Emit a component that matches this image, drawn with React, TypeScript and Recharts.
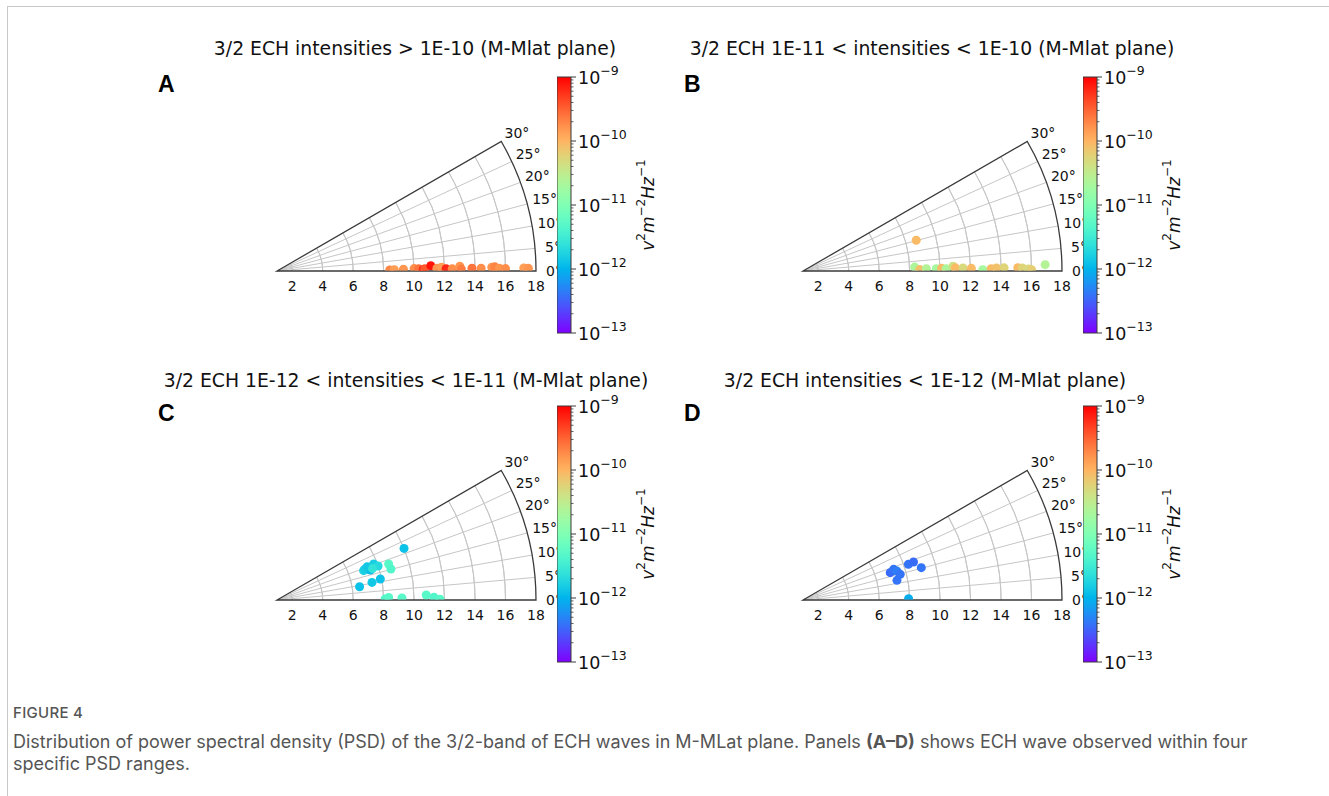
import React from 'react';
import {
  RadarChart,
  Radar,
  PolarGrid,
  PolarAngleAxis,
  PolarRadiusAxis,
  Pie,
  ComposedChart,
  XAxis,
  YAxis,
  ReferenceArea,
} from 'recharts';

// ---- data ----
const MLAT_TICKS = [0, 5, 10, 15, 20, 25, 30];
const RADIUS_TICKS = [2, 4, 6, 8, 10, 12, 14, 16, 18];
const GRID_ARCS = [2, 4, 6, 8, 10, 12, 14, 16];
const CB_EXPONENTS = [-13, -12, -11, -10, -9];

// A: intensities > 1E-10
const A_RADIUS = [8.4, 8.7, 9.3, 10.0, 10.3, 10.6, 10.7, 11.1, 11.5, 11.8, 12.1, 12.5, 13.0, 13.1, 13.8, 14.4, 15.1, 15.3, 15.6, 16.0, 17.2, 17.5];
const A_MLAT = [0.5, 0.6, 0.8, 1.0, 0.9, 0.6, 0.9, 2.0, 1.0, 1.3, 0.8, 0.7, 1.5, 0.6, 0.8, 0.8, 1.0, 1.1, 0.7, 0.6, 0.7, 0.6];
const A_LOGPSD = [-9.7, -9.85, -9.8, -9.75, -9.6, -9.2, -9.45, -9.1, -9.8, -9.85, -9.2, -9.75, -9.8, -9.65, -9.6, -9.75, -9.8, -9.7, -9.8, -9.75, -9.85, -9.8];

// B: 1E-11 < intensities < 1E-10
const B_RADIUS = [8.33, 8.7, 8.66, 9.1, 9.75, 10.1, 10.4, 10.85, 11.0, 11.5, 12.05, 12.8, 13.35, 13.7, 14.2, 15.1, 15.4, 15.8, 16.0, 16.9];
const B_MLAT = [2.0, 15.2, 0.7, 1.1, 1.0, 1.1, 0.9, 1.8, 1.2, 1.1, 0.9, 0.4, 0.7, 0.9, 0.9, 0.9, 0.8, 0.5, 0.3, 1.5];
const B_LOGPSD = [-10.65, -10.05, -10.1, -10.6, -10.7, -10.05, -10.65, -10.4, -10.05, -10.3, -10.05, -10.7, -10.05, -10.1, -10.25, -10.05, -10.25, -10.3, -10.2, -10.6];

// C: 1E-12 < intensities < 1E-11
const C_RADIUS = [6.49, 7.34, 7.92, 7.0, 7.1, 7.43, 7.5, 7.3, 7.77, 8.0, 7.6, 8.7, 8.75, 10.0, 8.1, 8.33, 9.2, 10.8, 11.3, 11.7];
const C_MLAT = [9.1, 10.5, 11.5, 18.7, 19.3, 17.8, 19.3, 20.2, 20.4, 18.6, 18.2, 17.9, 15.2, 22.1, 0.5, 1.3, 0.9, 1.9, 1.0, 0.3];
const C_LOGPSD = [-11.9, -11.85, -11.9, -11.75, -11.8, -11.95, -11.9, -11.85, -11.8, -11.7, -11.6, -11.3, -11.35, -11.9, -11.35, -11.3, -11.3, -11.3, -11.35, -11.3];

// D: intensities < 1E-12
const D_RADIUS = [7.93, 7.3, 7.0, 7.28, 7.45, 7.6, 8.3, 8.67, 9.05];
const D_MLAT = [0.7, 11.8, 17.4, 18.7, 17.1, 14.8, 18.7, 19.0, 15.3];
const D_LOGPSD = [-12.05, -12.4, -12.45, -12.4, -12.35, -12.4, -12.4, -12.45, -12.4];

// ---- layout ----
const FONT = '"DejaVu Sans", sans-serif';
const R_MIN = 1;
const R_MAX = 18;
const R_PX = 259;
const W = 340;
const H = 200;
const CX = 20;
const CY = 160;
const CB_W = 14;
const CB_H = 256;
const CB_PAD = 22;
const CB_AXIS_W = 120;
const GRID = '#c6c6c6';
const SPINE = '#3a3a3a';

const PANELS = [
  { id: 'a', letter: 'A', title: '3/2 ECH intensities > 1E-10 (M-Mlat plane)', vx: 277, vy: 270.5, tx: 415, ty: 48, cbx: 557, cby: 77, radius: A_RADIUS, mlat: A_MLAT, psd: A_LOGPSD },
  { id: 'b', letter: 'B', title: '3/2 ECH 1E-11 < intensities < 1E-10 (M-Mlat plane)', vx: 803, vy: 270.5, tx: 932, ty: 48, cbx: 1083, cby: 77, radius: B_RADIUS, mlat: B_MLAT, psd: B_LOGPSD },
  { id: 'c', letter: 'C', title: '3/2 ECH 1E-12 < intensities < 1E-11 (M-Mlat plane)', vx: 277, vy: 599.5, tx: 406, ty: 380, cbx: 557, cby: 406, radius: C_RADIUS, mlat: C_MLAT, psd: C_LOGPSD },
  { id: 'd', letter: 'D', title: '3/2 ECH intensities < 1E-12 (M-Mlat plane)', vx: 803, vy: 599.5, tx: 925, ty: 380, cbx: 1083, cby: 406, radius: D_RADIUS, mlat: D_MLAT, psd: D_LOGPSD },
];

// matplotlib "rainbow" colormap
function rainbow(t: number) {
  const c = (v: number) => Math.round(255 * Math.max(0, Math.min(1, v)));
  return `rgb(${c(Math.abs(2 * t - 0.5))},${c(Math.sin(Math.PI * t))},${c(Math.cos((Math.PI * t) / 2))})`;
}
const LOG_MIN = CB_EXPONENTS[0];
const LOG_MAX = CB_EXPONENTS[CB_EXPONENTS.length - 1];
const colorOf = (lp: number) => rainbow((lp - LOG_MIN) / (LOG_MAX - LOG_MIN));

const arcPx = (r: number) => ((r - R_MIN) / (R_MAX - R_MIN)) * R_PX;

const CB_MAJOR = CB_EXPONENTS.map((e) => Math.pow(10, e));
const CB_MINOR = CB_EXPONENTS.slice(0, -1).flatMap((e) => [2, 3, 4, 5, 6, 7, 8, 9].map((m) => m * Math.pow(10, e)));

function AngleTick(props: any) {
  const { x, y, payload } = props;
  return (
    <text x={x} y={y} textAnchor="middle" dominantBaseline="central" fontFamily={FONT} fontSize={14} fill="#111">
      {`${payload.value}°`}
    </text>
  );
}

function RadiusTick(props: any) {
  const { x, y, payload } = props;
  return (
    <text x={x} y={y + 15} textAnchor="middle" dominantBaseline="central" fontFamily={FONT} fontSize={14} fill="#111">
      {payload.value}
    </text>
  );
}

function WedgePanel({ p }: { p: (typeof PANELS)[number] }) {
  const data = p.radius.map((r, i) => ({ r, lat: p.mlat[i], psd: p.psd[i] }));
  const clipId = `wedge-clip-${p.id}`;
  const renderDot = (props: any) => {
    const d = props.payload?.payload ?? props.payload;
    return (
      <circle
        key={`dot-${props.index}`}
        cx={props.cx}
        cy={props.cy}
        r={4.5}
        fill={colorOf(d.psd)}
        stroke="none"
        clipPath={`url(#${clipId})`}
      />
    );
  };
  return (
    <div style={{ position: 'absolute', left: p.vx - CX, top: p.vy - CY }}>
      <RadarChart
        width={W}
        height={H}
        cx={CX}
        cy={CY}
        innerRadius={0}
        outerRadius={R_PX}
        startAngle={0}
        endAngle={30}
        data={data}
        margin={{ top: 0, right: 0, bottom: 0, left: 0 }}
      >
        <defs>
          <clipPath id={clipId}>
            <rect x={0} y={0} width={W} height={CY - 0.5} />
          </clipPath>
        </defs>
        {GRID_ARCS.map((r) => (
          <Pie
            key={`arc-${r}`}
            data={[{ v: 1 }]}
            dataKey="v"
            cx={CX}
            cy={CY}
            innerRadius={arcPx(r)}
            outerRadius={arcPx(r)}
            startAngle={0}
            endAngle={30}
            fill="none"
            stroke={GRID}
            strokeWidth={1}
            isAnimationActive={false}
          />
        ))}
        <PolarGrid gridType="polygon" polarAngles={[5, 10, 15, 20, 25]} polarRadius={[]} stroke={GRID} strokeWidth={1} />
        <PolarAngleAxis
          type="number"
          dataKey="lat"
          domain={[0, 30]}
          allowDataOverflow
          ticks={MLAT_TICKS}
          tickCount={7}
          tick={AngleTick}
          tickSize={18}
          tickLine={false}
          axisLine={false}
        />
        <PolarRadiusAxis
          type="number"
          angle={0}
          domain={[R_MIN, R_MAX]}
          allowDataOverflow
          ticks={RADIUS_TICKS}
          tick={RadiusTick}
          tickLine={false}
          axisLine={false}
        />
        <Radar dataKey="r" stroke="none" fill="none" fillOpacity={0} dot={renderDot} isAnimationActive={false} />
        <Pie
          data={[{ v: 1 }]}
          dataKey="v"
          cx={CX}
          cy={CY}
          innerRadius={0}
          outerRadius={R_PX}
          startAngle={0}
          endAngle={30}
          fill="none"
          stroke={SPINE}
          strokeWidth={1.3}
          isAnimationActive={false}
        />
      </RadarChart>
    </div>
  );
}

function CbTick(props: any) {
  const { x, y, payload } = props;
  const e = Math.log10(payload.value);
  const major = Math.abs(e - Math.round(e)) < 1e-6;
  if (!major) {
    return <line x1={x} y1={y} x2={x + 2.5} y2={y} stroke={SPINE} strokeWidth={0.8} />;
  }
  return (
    <g>
      <line x1={x} y1={y} x2={x + 5} y2={y} stroke={SPINE} strokeWidth={1} />
      <text x={x + 7} y={y + 7} fontFamily={FONT} fontSize={17.5} fill="#111">
        10
        <tspan dy={-9} fontSize={12.5}>{`\u2212${Math.abs(Math.round(e))}`}</tspan>
      </text>
    </g>
  );
}

function CbLabel(props: any) {
  const vb = props.viewBox || {};
  const x = (vb.x ?? 0) + 77;
  const y = (vb.y ?? 0) + (vb.height ?? 0) / 2;
  return (
    <text
      x={x}
      y={y}
      textAnchor="middle"
      dominantBaseline="central"
      transform={`rotate(-90 ${x} ${y})`}
      fontFamily={FONT}
      fontSize={17}
      fill="#111"
    >
      <tspan fontStyle="italic">v</tspan>
      <tspan dy={-7} fontSize={12}>2</tspan>
      <tspan dy={7} fontStyle="italic">m</tspan>
      <tspan dy={-7} fontSize={12}>{'\u22122'}</tspan>
      <tspan dy={7} fontStyle="italic">Hz</tspan>
      <tspan dy={-7} fontSize={12}>{'\u22121'}</tspan>
    </text>
  );
}

function Colorbar({ p }: { p: (typeof PANELS)[number] }) {
  const gid = `rainbow-${p.id}`;
  const stops = Array.from({ length: 21 }, (_, i) => i / 20);
  return (
    <div style={{ position: 'absolute', left: p.cbx, top: p.cby - CB_PAD }}>
      <ComposedChart
        width={CB_W + CB_AXIS_W}
        height={CB_H + 2 * CB_PAD}
        margin={{ top: CB_PAD, bottom: CB_PAD, left: 0, right: 0 }}
        data={[
          { x: 0, y: CB_MAJOR[0] },
          { x: 1, y: CB_MAJOR[CB_MAJOR.length - 1] },
        ]}
      >
        <defs>
          <linearGradient id={gid} x1="0" y1="1" x2="0" y2="0">
            {stops.map((t) => (
              <stop key={t} offset={t} stopColor={rainbow(t)} />
            ))}
          </linearGradient>
        </defs>
        <XAxis type="number" dataKey="x" domain={[0, 1]} hide />
        <YAxis
          type="number"
          dataKey="y"
          scale="log"
          domain={[CB_MAJOR[0], CB_MAJOR[CB_MAJOR.length - 1]]}
          allowDataOverflow
          orientation="right"
          width={CB_AXIS_W}
          ticks={[...CB_MINOR, ...CB_MAJOR]}
          interval={0}
          tick={CbTick}
          tickLine={false}
          axisLine={false}
          tickSize={0}
          tickMargin={0}
          label={{ content: CbLabel }}
        />
        <ReferenceArea
          x1={0}
          x2={1}
          y1={CB_MAJOR[0]}
          y2={CB_MAJOR[CB_MAJOR.length - 1]}
          fill={`url(#${gid})`}
          fillOpacity={1}
          stroke={SPINE}
          strokeWidth={1}
          ifOverflow="visible"
        />
      </ComposedChart>
    </div>
  );
}

export default function App() {
  return (
    <div
      style={{
        position: 'absolute',
        left: 0,
        top: 0,
        width: 1329,
        height: 796,
        background: '#fff',
        overflow: 'hidden',
      }}
    >
      {/* page frame */}
      <div style={{ position: 'absolute', left: 7, top: 6, width: 1329, height: 800, borderLeft: '1.5px solid #c8c8c8', borderTop: '1.5px solid #c8c8c8' }} />

      {PANELS.map((p) => (
        <React.Fragment key={p.id}>
          <div
            style={{
              position: 'absolute',
              left: p.tx,
              top: p.ty,
              transform: 'translate(-50%, -50%)',
              whiteSpace: 'nowrap',
              fontFamily: FONT,
              fontSize: 18.8,
              color: '#111',
            }}
          >
            {p.title}
          </div>
          <div
            style={{
              position: 'absolute',
              left: p.vx - 119,
              top: p.vy - 200,
              fontFamily: '"Liberation Sans", Arial, sans-serif',
              fontWeight: 700,
              fontSize: 23,
              lineHeight: '26px',
              color: '#000',
            }}
          >
            {p.letter}
          </div>
          <WedgePanel p={p} />
          <Colorbar p={p} />
        </React.Fragment>
      ))}

      <div style={{ position: 'absolute', left: 13, top: 703, fontFamily: 'Inter, sans-serif', color: '#555', whiteSpace: 'nowrap' }}>
        <div style={{ fontSize: 15, lineHeight: '20px', fontWeight: 500, letterSpacing: 0.3 }}>FIGURE 4</div>
        <div style={{ fontSize: 18, lineHeight: '22px', marginTop: 8 }}>
          Distribution of power spectral density (PSD) of the 3/2-band of ECH waves in M-MLat plane. Panels <b>(A–D)</b> shows ECH wave observed within four
        </div>
        <div style={{ fontSize: 18, lineHeight: '22px' }}>specific PSD ranges.</div>
      </div>
    </div>
  );
}
